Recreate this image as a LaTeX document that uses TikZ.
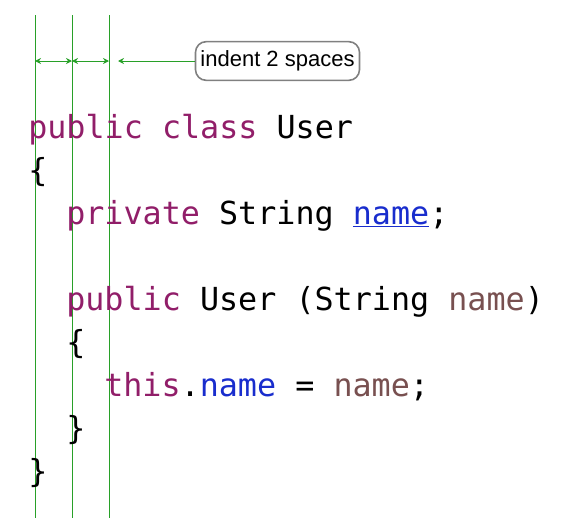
\documentclass[tikz,border=0pt]{standalone}
\usepackage{fontspec}
\setmainfont{Liberation Sans}
\setmonofont{DejaVu Sans Mono}
\usepackage{tikz}
\usetikzlibrary{arrows.meta}
\definecolor{keyword}{RGB}{145,30,105}
\definecolor{member}{RGB}{25,45,205}
\definecolor{param}{RGB}{120,80,80}
\definecolor{guide}{RGB}{40,160,40}
\newcommand{\kw}[1]{\textcolor{keyword}{#1}}
\newcommand{\mem}[1]{\textcolor{member}{#1}}
\newcommand{\prm}[1]{\textcolor{param}{#1}}

\begin{document}
\begin{tikzpicture}[x=0.75pt, y=-0.75pt,
  code/.style={anchor=base west, inner sep=0pt, font=\fontsize{23.8}{28}\ttfamily},
  gap/.style={guide, line width=0.7pt, {Stealth[length=4.5pt,width=4.5pt]}-{Stealth[length=4.5pt,width=4.5pt]}}]
  \useasboundingbox (0,0) rectangle (579,532);
  % indent guides
  \foreach \x [count=\i] in {35,72,109} {
    \coordinate (top\i) at (\x,15);
    \coordinate (bot\i) at (\x,518);
    \coordinate (tick\i) at (\x,61);
    \draw[guide, line width=0.6pt] (top\i) -- (bot\i);
  }
  \draw[gap] (tick1) -- (tick2);
  \draw[gap] (tick2) -- (tick3);
  \coordinate (tip) at (118,61);
  \node[draw=gray, line width=1.2pt, rounded corners=8pt, minimum width=123pt, minimum height=29pt,
    inner sep=2pt, font=\fontsize{16.5}{18}\selectfont] (note) at (277.5,61) {indent 2 spaces};
  \draw[guide, line width=0.7pt, -{Stealth[length=4.5pt,width=4.5pt]}] (note.west) -- (tip);
  % code lines
  \node[code] (l1) at (28,138) {\kw{public} \kw{class} User};
  \node[code] (l2) at (28,181) {\{};
  \node[code] (l3) at (66,224) {\kw{private} String \mem{\underline{name}};};
  \node[code] (l5) at (66,310) {\kw{public} User (String \prm{name})};
  \node[code] (l6) at (66,353) {\{};
  \node[code] (l7) at (104,396) {\kw{this}.\mem{name} = \prm{name};};
  \node[code] (l8) at (66,439) {\}};
  \node[code] (l9) at (28,482) {\}};
\end{tikzpicture}
\end{document}
